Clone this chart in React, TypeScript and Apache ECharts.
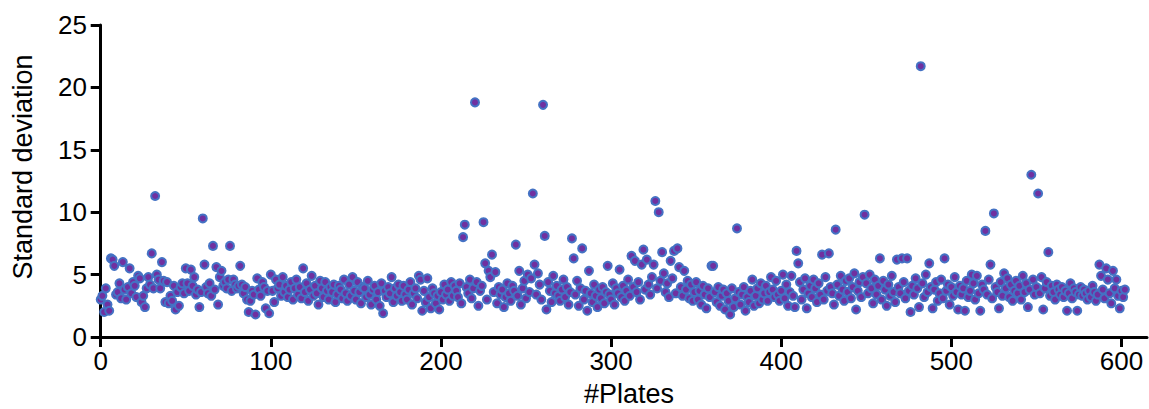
import React, { useEffect, useRef } from "react";
import * as echarts from "echarts";

// Standard deviation per plate (index = plate number)
const stdDevValues: number[] = [
  3.0, 3.3, 2.0, 3.9, 2.6, 2.1, 6.3, 6.2, 5.7, 3.4,
  3.6, 4.3, 3.1, 6.0, 3.8, 3.0, 4.0, 5.5, 3.5, 4.4,
  4.1, 3.2, 4.9, 4.7, 2.8, 3.3, 2.4, 3.9, 4.8, 4.2,
  6.7, 3.9, 11.3, 5.0, 4.6, 3.9, 6.0, 4.5, 2.8, 4.4,
  2.7, 3.3, 2.9, 4.1, 2.2, 3.6, 2.5, 4.0, 4.3, 3.5,
  5.5, 4.3, 3.7, 5.4, 4.1, 4.8, 3.4, 3.8, 2.4, 3.6,
  9.5, 5.8, 4.0, 3.5, 4.3, 3.3, 7.3, 3.8, 5.6, 2.6,
  4.8, 5.3, 4.1, 4.4, 3.9, 4.6, 7.3, 3.7, 4.6, 4.2,
  3.9, 4.1, 5.7, 4.2, 3.5, 4.0, 3.0, 2.0, 2.9, 3.7,
  3.4, 1.8, 4.7, 3.8, 3.3, 4.4, 4.0, 2.3, 3.7, 1.9,
  5.0, 3.7, 2.8, 4.6, 3.9, 4.2, 3.3, 4.8, 3.6, 4.1,
  3.2, 3.8, 4.4, 3.0, 3.9, 4.6, 3.4, 4.0, 3.1, 5.5,
  3.6, 4.3, 2.9, 3.8, 4.9, 3.3, 4.1, 3.5, 2.6, 4.5,
  3.9, 3.2, 4.4, 3.7, 3.0, 4.0, 3.6, 4.2, 2.8, 3.4,
  4.1, 3.8, 3.1, 4.6, 3.5, 2.9, 4.2, 3.3, 4.8, 3.7,
  3.0, 4.4, 3.6, 2.7, 4.0, 3.9, 3.2, 4.5, 3.4, 2.6,
  3.8, 4.1, 3.0, 3.6, 2.5, 4.3, 1.9, 3.7, 3.2, 4.0,
  3.5, 4.8, 2.8, 3.9, 3.3, 4.2, 3.6, 2.9, 4.1, 3.4,
  3.0, 3.8, 4.4, 2.6, 3.5, 3.9, 3.1, 4.9, 4.6, 2.1,
  3.7, 2.8, 4.7, 3.2, 2.3, 3.9, 3.5, 2.7, 3.3, 2.2,
  3.6, 3.0, 4.2, 3.4, 3.8, 2.9, 4.4, 3.3, 4.1, 3.7,
  3.2, 4.3, 2.7, 8.0, 9.0, 4.0, 3.5, 4.6, 3.1, 3.9,
  18.8, 4.4, 2.5, 3.7, 4.1, 9.2, 5.9, 3.0, 5.3, 4.8,
  6.6, 3.6, 5.2, 2.7, 4.0, 3.4, 3.8, 2.4, 3.2, 4.3,
  3.5, 2.9, 4.1, 3.7, 7.4, 3.3, 5.3, 2.6, 3.9, 4.5,
  3.1, 5.0, 3.6, 4.7, 11.5, 5.8, 3.4, 5.1, 4.2, 3.0,
  18.6, 8.1, 2.2, 4.4, 3.7, 2.8, 4.9, 3.5, 4.1, 3.3,
  2.9, 3.8, 4.6, 3.2, 4.0, 2.6, 3.6, 7.9, 6.3, 3.4,
  4.5, 2.5, 3.9, 7.1, 3.0, 3.7, 2.1, 5.3, 3.5, 2.8,
  4.2, 3.3, 2.4, 3.8, 3.1, 4.0, 2.7, 3.6, 5.7, 3.4,
  3.0, 4.3, 2.6, 3.9, 3.5, 5.4, 3.2, 4.1, 2.9, 3.7,
  4.6, 3.3, 6.5, 4.0, 6.1, 3.6, 4.4, 3.0, 5.8, 7.0,
  3.8, 6.2, 4.2, 3.4, 4.8, 5.8, 10.9, 3.9, 10.0, 4.5,
  6.8, 5.1, 3.6, 4.3, 3.2, 6.1, 4.7, 6.9, 3.5, 7.1,
  5.6, 4.0, 3.3, 5.3, 3.8, 4.5, 3.1, 4.2, 2.9, 3.6,
  4.4, 3.0, 3.7, 2.6, 4.1, 3.4, 2.3, 3.9, 3.2, 5.7,
  5.7, 3.6, 2.8, 4.0, 2.5, 3.3, 3.8, 2.2, 3.5, 2.9,
  1.8, 3.9, 2.4, 3.1, 8.7, 3.6, 2.6, 3.4, 4.0, 2.1,
  3.2, 2.8, 3.7, 4.6, 2.5, 3.3, 3.9, 2.7, 4.3, 3.0,
  3.5, 4.1, 2.9, 3.6, 4.8, 3.8, 3.2, 4.5, 3.4, 2.9,
  3.7, 5.0, 3.1, 4.2, 2.5, 3.6, 4.9, 3.3, 2.4, 6.9,
  5.9, 4.4, 3.0, 3.8, 4.7, 2.3, 3.5, 4.1, 3.2, 4.6,
  3.9, 2.8, 4.3, 3.4, 6.6, 3.0, 4.8, 3.7, 6.7, 4.0,
  3.5, 2.6, 8.6, 4.2, 3.3, 4.9, 3.8, 2.9, 4.5, 3.6,
  4.7, 3.1, 4.0, 5.1, 2.2, 3.7, 4.4, 3.2, 4.8, 9.8,
  4.3, 3.5, 5.0, 3.9, 2.7, 4.6, 3.4, 4.1, 6.3, 3.0,
  4.5, 3.8, 2.5, 4.2, 3.3, 4.9, 3.6, 2.8, 6.2, 4.0,
  3.5, 6.3, 4.4, 3.1, 6.3, 3.7, 2.0, 4.1, 3.4, 4.7,
  3.9, 2.4, 21.7, 4.3, 3.2, 5.0, 3.6, 5.9, 4.0, 2.3,
  3.8, 4.4, 2.9, 3.5, 4.6, 3.1, 6.3, 3.7, 4.2, 2.6,
  4.0, 3.3, 4.8, 3.6, 2.2, 4.1, 3.4, 3.9, 2.1, 4.5,
  3.2, 3.7, 5.0, 4.3, 3.0, 4.9, 3.5, 2.1, 4.2, 3.8,
  8.5, 3.4, 4.6, 5.8, 3.1, 9.9, 4.0, 3.6, 2.3, 4.4,
  3.3, 5.1, 3.9, 4.7, 3.2, 4.2, 2.9, 3.7, 4.5, 3.5,
  4.1, 3.0, 4.9, 3.6, 4.3, 2.4, 3.8, 13.0, 4.6, 3.4,
  4.0, 11.5, 3.5, 4.8, 2.2, 3.9, 4.4, 6.8, 3.3, 4.1,
  3.6, 3.0, 4.2, 3.8, 3.4, 4.0, 3.2, 3.7, 2.1, 3.5,
  4.3, 3.1, 3.9, 3.6, 2.1, 3.4, 4.0, 3.3, 3.8, 3.5,
  3.0, 3.7, 3.2, 4.1, 3.6, 2.9, 3.4, 5.8, 4.9, 3.8,
  3.1, 5.5, 4.6, 3.5, 2.7, 5.3, 3.9, 4.6, 3.3, 2.3,
  3.7, 3.2, 3.8,
];

const xTickValues = [0, 100, 200, 300, 400, 500, 600];
const yTickValues = [0, 5, 10, 15, 20, 25];
const xAxisTitle = "#Plates";
const yAxisTitle = "Standard deviation";

export default function App() {
  const ref = useRef<HTMLDivElement>(null);

  useEffect(() => {
    if (!ref.current) return;
    const chart = echarts.init(ref.current, null, { renderer: "svg" });
    const font = "'Liberation Sans', Arial, Helvetica, sans-serif";
    chart.setOption({
      animation: false,
      backgroundColor: "#ffffff",
      grid: { left: 99, right: 2, top: 25, bottom: 72, containLabel: false },
      xAxis: {
        type: "value",
        min: -1,
        max: 615,
        axisLine: { show: true, onZero: false, lineStyle: { color: "#000", width: 3 } },
        axisTick: { show: true, length: 10, lineStyle: { color: "#000", width: 3 }, customValues: xTickValues },
        axisLabel: { customValues: xTickValues, color: "#000", fontSize: 26, fontFamily: font, margin: 11 },
        splitLine: { show: false },
      },
      yAxis: {
        type: "value",
        min: 0,
        max: 25,
        interval: 5,
        axisLine: { show: true, lineStyle: { color: "#000", width: 3 } },
        axisTick: { show: true, length: 10, lineStyle: { color: "#000", width: 3 }, customValues: yTickValues },
        axisLabel: { customValues: yTickValues, color: "#000", fontSize: 26, fontFamily: font, margin: 12 },
        splitLine: { show: false },
      },
      graphic: [
        {
          type: "text",
          x: 23,
          y: 167,
          rotation: Math.PI / 2,
          style: {
            text: yAxisTitle,
            fontSize: 27,
            fontFamily: font,
            fill: "#000",
            align: "center",
            verticalAlign: "middle",
          },
        },
        {
          type: "text",
          x: 629,
          y: 394,
          style: {
            text: xAxisTitle,
            fontSize: 27,
            fontFamily: font,
            fill: "#000",
            align: "center",
            verticalAlign: "middle",
          },
        },
      ],
      series: [
        {
          type: "scatter",
          data: stdDevValues.map((v, i) => [i, v]),
          symbol: "circle",
          symbolSize: 8,
          itemStyle: { color: "#7030A0", borderColor: "#4472C4", borderWidth: 2, opacity: 1 },
        },
      ],
    });
    return () => chart.dispose();
  }, []);

  return (
    <div
      ref={ref}
      style={{ position: "fixed", left: 0, top: 0, width: 1149, height: 409 }}
    />
  );
}
